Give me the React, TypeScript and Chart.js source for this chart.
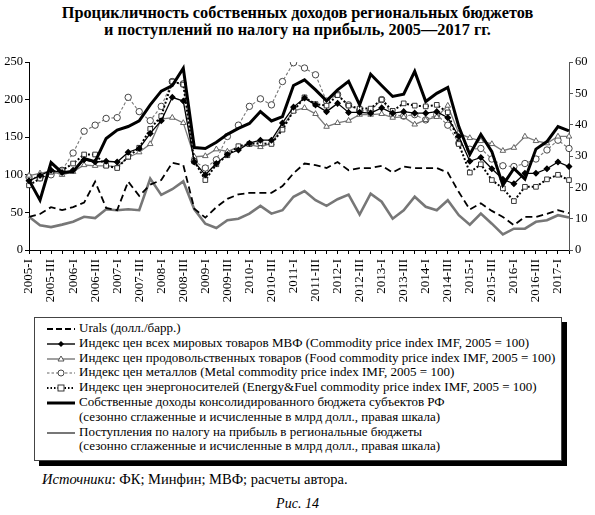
import React, { useEffect, useRef } from "react";
import { Chart } from "chart.js/auto";

const FONT = "'Liberation Serif', 'Times New Roman', serif";

// quarters 2005-I ... 2017-II
const quarters = [
  "2005-I", "2005-II", "2005-III", "2005-IV",
  "2006-I", "2006-II", "2006-III", "2006-IV",
  "2007-I", "2007-II", "2007-III", "2007-IV",
  "2008-I", "2008-II", "2008-III", "2008-IV",
  "2009-I", "2009-II", "2009-III", "2009-IV",
  "2010-I", "2010-II", "2010-III", "2010-IV",
  "2011-I", "2011-II", "2011-III", "2011-IV",
  "2012-I", "2012-II", "2012-III", "2012-IV",
  "2013-I", "2013-II", "2013-III", "2013-IV",
  "2014-I", "2014-II", "2014-III", "2014-IV",
  "2015-I", "2015-II", "2015-III", "2015-IV",
  "2016-I", "2016-II", "2016-III", "2016-IV",
  "2017-I", "2017-II",
];

const urals = [
  44, 48, 57, 53, 57, 63, 91, 56, 53, 91,
  72, 87, 93, 116, 113, 55, 43, 57, 68, 74,
  76, 76, 76, 85, 102, 115, 113, 109, 117, 106,
  109, 109, 112, 103, 111, 109, 109, 109, 103, 77,
  54, 62, 52, 44, 33, 44, 44, 48, 53, 49,
];
const commodityIdx = [
  92, 99, 106, 103, 106, 120, 117, 118, 117, 130,
  135, 155, 172, 203, 198, 117, 100, 115, 127, 133,
  142, 146, 146, 169, 190, 202, 193, 184, 195, 183,
  183, 182, 189, 182, 184, 182, 182, 184, 176, 151,
  118, 123, 108, 94, 88, 102, 102, 108, 117, 111,
];
const foodIdx = [
  99, 102, 105, 100, 104, 113, 112, 112, 111, 123,
  130, 141, 174, 176, 169, 124, 125, 134, 131, 137,
  140, 137, 142, 164, 185, 189, 181, 164, 169, 172,
  180, 180, 181, 176, 177, 167, 173, 177, 192, 155,
  149, 145, 141, 132, 136, 151, 145, 142, 151, 151,
];
const metalIdx = [
  97, 96, 100, 106, 129, 158, 166, 175, 176, 203,
  184, 172, 191, 224, 221, 118, 109, 120, 151, 166,
  191, 201, 193, 224, 249, 242, 233, 198, 207, 193,
  185, 185, 200, 180, 178, 180, 173, 180, 166, 142,
  134, 135, 121, 112, 111, 115, 121, 133, 146, 135,
];
const energyIdx = [
  86, 95, 104, 106, 115, 127, 127, 112, 109, 124,
  136, 161, 178, 224, 220, 118, 93, 114, 126, 138,
  141, 142, 141, 160, 185, 203, 194, 192, 206, 192,
  188, 188, 200, 185, 195, 192, 191, 193, 183, 141,
  103, 114, 93, 82, 65, 84, 84, 94, 100, 93,
];
// right axis, bln USD
const ownRevenue = [
  22.3, 15.9, 27.9, 24.7, 25, 29.2, 28.2, 35.6, 38.3, 39.4,
  41.2, 46.3, 50.7, 52.5, 58, 32.7, 32.4, 34.4, 36.9, 38.8,
  40.4, 44.2, 41.2, 42.6, 52.5, 54.3, 51.1, 47.6, 51.1, 53.8,
  46.3, 56.1, 52.5, 49, 49.7, 57, 47.4, 50, 51.9, 39.4,
  30.5, 36.9, 31.4, 20.7, 26, 22.6, 32.2, 34.6, 39.4, 38,
];
const profitTax = [
  10.6, 7.9, 7.3, 8.1, 9, 10.6, 10.2, 13, 12.7, 13,
  12.7, 22.8, 17.6, 19.4, 21.9, 13, 8.4, 7, 9.5, 10,
  11.6, 14.1, 11.6, 12.7, 17, 18.8, 15.9, 14.1, 16.2, 17.7,
  11.3, 18, 15.4, 10, 12.7, 17, 13.8, 12.7, 15.9, 11.1,
  8.1, 11.6, 8.4, 5, 6.8, 6.8, 9, 9.5, 11.1, 10.4,
];

const legendRows: { key: string; lines: string[] }[] = [
  { key: "urals", lines: ["Urals (долл./барр.)"] },
  { key: "all", lines: ["Индекс цен всех мировых товаров МВФ (Commodity price index IMF, 2005 = 100)"] },
  { key: "food", lines: ["Индекс цен продовольственных товаров (Food commodity price index IMF, 2005 = 100)"] },
  { key: "metal", lines: ["Индекс цен металлов (Metal commodity price index IMF, 2005 = 100)"] },
  { key: "energy", lines: ["Индекс цен энергоносителей (Energy&Fuel commodity price index IMF, 2005 = 100)"] },
  {
    key: "own",
    lines: [
      "Собственные доходы консолидированного бюджета субъектов РФ",
      "(сезонно сглаженные и исчисленные в млрд долл., правая шкала)",
    ],
  },
  {
    key: "tax",
    lines: [
      "Поступления по налогу на прибыль в региональные бюджеты",
      "(сезонно сглаженные и исчисленные в млрд долл., правая шкала)",
    ],
  },
];

const Sample: React.FC<{ kind: string }> = ({ kind }) => {
  const w = 28;
  const y = 6;
  let line: React.ReactNode = null;
  let mark: React.ReactNode = null;
  if (kind === "urals") {
    line = <line x1={0} y1={y} x2={w} y2={y} stroke="#000" strokeWidth={1.8} strokeDasharray="6 3" />;
  } else if (kind === "all") {
    line = <line x1={0} y1={y} x2={w} y2={y} stroke="#000" strokeWidth={1.4} />;
    mark = <polygon points={`${w / 2},${y - 3} ${w / 2 + 3},${y} ${w / 2},${y + 3} ${w / 2 - 3},${y}`} fill="#000" />;
  } else if (kind === "food") {
    line = <line x1={0} y1={y} x2={w} y2={y} stroke="#777" strokeWidth={1.4} />;
    mark = <polygon points={`${w / 2},${y - 3} ${w / 2 + 3},${y + 2} ${w / 2 - 3},${y + 2}`} fill="#fff" stroke="#444" strokeWidth={0.9} />;
  } else if (kind === "metal") {
    line = <line x1={0} y1={y} x2={w} y2={y} stroke="#666" strokeWidth={1.2} strokeDasharray="2.5 2" />;
    mark = <circle cx={w / 2} cy={y} r={3} fill="#fff" stroke="#333" strokeWidth={0.9} />;
  } else if (kind === "energy") {
    line = <line x1={0} y1={y} x2={w} y2={y} stroke="#000" strokeWidth={2} strokeDasharray="1.5 2" />;
    mark = <rect x={w / 2 - 3} y={y - 3} width={6} height={6} fill="#fff" stroke="#222" strokeWidth={0.9} />;
  } else if (kind === "own") {
    line = <line x1={0} y1={y} x2={w} y2={y} stroke="#000" strokeWidth={3} />;
  } else {
    line = <line x1={0} y1={y} x2={w} y2={y} stroke="#777" strokeWidth={2} />;
  }
  return (
    <svg width={w} height={12} style={{ display: "block" }}>
      {line}
      {mark}
    </svg>
  );
};

const App: React.FC = () => {
  const canvasRef = useRef<HTMLCanvasElement | null>(null);
  const chartRef = useRef<Chart | null>(null);

  useEffect(() => {
    if (!canvasRef.current) return;
    if (chartRef.current) chartRef.current.destroy();
    const ctx = canvasRef.current.getContext("2d");
    if (!ctx) return;

    const tickFont = { family: FONT, size: 12.5 };

    chartRef.current = new Chart(ctx, {
      type: "line",
      data: {
        labels: quarters,
        datasets: [
          {
            label: "Urals",
            data: urals,
            yAxisID: "y",
            borderColor: "#000",
            borderWidth: 1.8,
            borderDash: [7, 4],
            pointRadius: 0,
            order: 5,
          },
          {
            label: "all",
            data: commodityIdx,
            yAxisID: "y",
            borderColor: "#000",
            borderWidth: 1.3,
            pointStyle: "rectRot",
            pointRadius: 2.6,
            pointBackgroundColor: "#000",
            pointBorderColor: "#000",
            order: 1,
          },
          {
            label: "food",
            data: foodIdx,
            yAxisID: "y",
            borderColor: "#7a7a7a",
            borderWidth: 1.3,
            pointStyle: "triangle",
            pointRadius: 3.2,
            pointBackgroundColor: "#fff",
            pointBorderColor: "#555",
            pointBorderWidth: 0.9,
            order: 3,
          },
          {
            label: "metal",
            data: metalIdx,
            yAxisID: "y",
            borderColor: "#777",
            borderWidth: 1.1,
            borderDash: [3, 2],
            pointStyle: "circle",
            pointRadius: 3.2,
            pointBackgroundColor: "#fff",
            pointBorderColor: "#333",
            pointBorderWidth: 0.9,
            order: 4,
          },
          {
            label: "energy",
            data: energyIdx,
            yAxisID: "y",
            borderColor: "#000",
            borderWidth: 2,
            borderDash: [2, 2],
            pointStyle: "rect",
            pointRadius: 3.3,
            pointBackgroundColor: "#fff",
            pointBorderColor: "#222",
            pointBorderWidth: 0.9,
            order: 2,
          },
          {
            label: "own",
            data: ownRevenue,
            yAxisID: "y1",
            borderColor: "#000",
            borderWidth: 3,
            pointRadius: 0,
            order: 0,
          },
          {
            label: "tax",
            data: profitTax,
            yAxisID: "y1",
            borderColor: "#777",
            borderWidth: 2.6,
            pointRadius: 0,
            order: 6,
          },
        ],
      },
      options: {
        responsive: true,
        maintainAspectRatio: false,
        animation: false,
        layout: { padding: { top: 22, left: 0, right: 0, bottom: 0 } },
        plugins: { legend: { display: false }, tooltip: { enabled: false } },
        elements: { line: { tension: 0 } },
        scales: {
          x: {
            offset: false,
            grid: { drawOnChartArea: false, tickLength: 4, color: "#000" },
            border: { color: "#000" },
            ticks: {
              autoSkip: false,
              maxRotation: 90,
              minRotation: 90,
              padding: 5,
              color: "#000",
              font: { family: FONT, size: 13 },
              callback: (_v: any, i: number) => (i % 2 === 0 ? quarters[i] : ""),
            },
            afterFit: (s: any) => {
              s.height = 65;
            },
          },
          y: {
            position: "left",
            min: 0,
            max: 250,
            ticks: { stepSize: 50, color: "#000", font: tickFont, padding: 2 },
            grid: { drawOnChartArea: false, tickLength: 4, color: "#000" },
            border: { color: "#000" },
            afterFit: (s: any) => {
              s.width = 29;
            },
          },
          y1: {
            position: "right",
            min: 0,
            max: 60,
            ticks: { stepSize: 10, color: "#000", font: tickFont, padding: 2 },
            grid: { drawOnChartArea: false, tickLength: 4, color: "#555" },
            border: { color: "#555" },
            afterFit: (s: any) => {
              s.width = 26;
            },
          },
        },
      },
    });

    return () => {
      if (chartRef.current) {
        chartRef.current.destroy();
        chartRef.current = null;
      }
    };
  }, []);

  return (
    <div
      style={{
        position: "absolute",
        left: 0,
        top: 0,
        width: 595,
        height: 515,
        background: "#fff",
        fontFamily: FONT,
        color: "#000",
        overflow: "hidden",
      }}
    >
      <div
        style={{
          position: "absolute",
          top: 4,
          left: 0,
          width: 595,
          textAlign: "center",
          fontWeight: "bold",
          fontSize: 16.3,
          lineHeight: "17px",
        }}
      >
        Процикличность собственных доходов региональных бюджетов
        <br />и поступлений по налогу на прибыль, 2005—2017 гг.
      </div>

      <div style={{ position: "absolute", top: 40, left: 0, width: 595, height: 275 }}>
        <canvas ref={canvasRef} />
      </div>

      <div
        style={{
          position: "absolute",
          left: 34,
          top: 317,
          width: 528,
          height: 144,
          border: "1px solid #444",
          boxShadow: "5px 5px 0 #000",
          background: "#fff",
          boxSizing: "border-box",
          paddingTop: 3,
          fontSize: 13,
          lineHeight: "14.8px",
        }}
      >
        {legendRows.map((r) => (
          <div key={r.key} style={{ display: "flex", alignItems: "flex-start" }}>
            <div style={{ width: 30, marginLeft: 12, paddingTop: 2 }}>
              <Sample kind={r.key} />
            </div>
            <div style={{ marginLeft: 2 }}>
              {r.lines.map((l, i) => (
                <div key={i} style={{ whiteSpace: "nowrap" }}>
                  {l}
                </div>
              ))}
            </div>
          </div>
        ))}
      </div>

      <div style={{ position: "absolute", left: 42, top: 471, fontSize: 14.5 }}>
        <i>Источники</i>: ФК; Минфин; МВФ; расчеты автора.
      </div>
      <div
        style={{
          position: "absolute",
          left: 0,
          width: 595,
          top: 496,
          textAlign: "center",
          fontSize: 14,
          fontStyle: "italic",
        }}
      >
        Рис. 14
      </div>
    </div>
  );
};

export default App;
